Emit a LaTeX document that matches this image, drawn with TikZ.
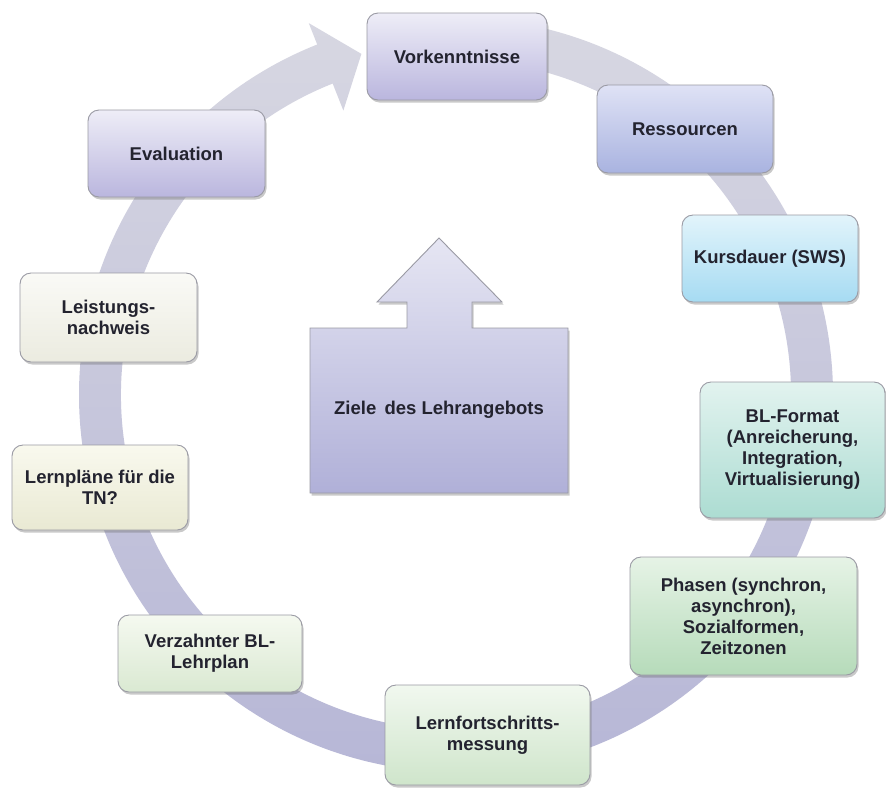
\documentclass[tikz,border=0pt]{standalone}
\usepackage{fontspec}
\setmainfont{Liberation Sans}
\usetikzlibrary{shadows,calc}
\definecolor{txt}{HTML}{23232F}
\definecolor{bordergray}{HTML}{9A9AA4}
\definecolor{bandtop}{HTML}{D8D8E2}
\definecolor{bandbot}{HTML}{B6B6D6}
\definecolor{zieletop}{HTML}{E6E6F3}
\definecolor{zielebot}{HTML}{B0B0D8}
\definecolor{vktop}{HTML}{EEEDF7}
\definecolor{vkbot}{HTML}{BAB6DE}
\definecolor{retop}{HTML}{DFE2F5}
\definecolor{rebot}{HTML}{A9B3E0}
\definecolor{kutop}{HTML}{E2F4FB}
\definecolor{kubot}{HTML}{A6DBF2}
\definecolor{bltop}{HTML}{E2F3EF}
\definecolor{blbot}{HTML}{ACDCD2}
\definecolor{phtop}{HTML}{E6F3E6}
\definecolor{phbot}{HTML}{B6DBBA}
\definecolor{lftop}{HTML}{F1F8EF}
\definecolor{lfbot}{HTML}{CFE5CB}
\definecolor{vztop}{HTML}{F5F9F0}
\definecolor{vzbot}{HTML}{DAE9D2}
\definecolor{lptop}{HTML}{F9F9EE}
\definecolor{lpbot}{HTML}{E9E9D3}
\definecolor{lntop}{HTML}{FAFAF6}
\definecolor{lnbot}{HTML}{EBEBE0}
\begin{document}
\begin{tikzpicture}[x=1pt,y=-1pt,
  box/.style={rectangle, rounded corners=11pt, draw=bordergray, line width=0.9pt,
    align=center, font=\fontsize{18.5}{21}\selectfont\bfseries, text=txt, inner sep=2pt,
    drop shadow={shadow xshift=1.5pt, shadow yshift=-2.5pt, opacity=0.35, fill=black!60}},
  shd/.style n args={2}{top color=#1, bottom color=#2},
]
\useasboundingbox (0,0) rectangle (886,796);
\fill[white] (0,0) rectangle (886,796);

% ring with arrow head
\coordinate (c) at (456,395);
\shade[top color=bandtop, bottom color=bandbot]
  ($(c)+(-95:377)$) arc[start angle=-95, end angle=248.4, radius=377]
  -- ($(c)+(248.4:400)$) -- ($(c)+(254.5:354)$) -- ($(c)+(248.4:306)$)
  -- ($(c)+(248.4:335)$) arc[start angle=248.4, end angle=-95, radius=335] -- cycle;

% central arrow shape
\draw[draw=bordergray, line width=0.9pt, top color=zieletop, bottom color=zielebot,
      drop shadow={shadow xshift=1.5pt, shadow yshift=-2.5pt, opacity=0.35, fill=black!60}]
  (310,328) -- (407,328) -- (407,302) -- (377,302) -- (439,238) -- (502,302)
  -- (472,302) -- (472,328) -- (568,328) -- (568,493) -- (310,493) -- cycle;
\node[font=\fontsize{18.5}{21}\selectfont\bfseries, text=txt] (ziele) at (439,410) {Ziele\, des Lehrangebots};

% boxes
\node[box, shd={vktop}{vkbot}, minimum width=180pt, minimum height=87pt] (vork) at (457,56.5) {Vorkenntnisse};
\node[box, shd={retop}{rebot}, minimum width=176pt, minimum height=88pt] (ress) at (685,129) {Ressourcen};
\node[box, shd={kutop}{kubot}, minimum width=176pt, minimum height=87pt] (kurs) at (770,258.5) {Kursdauer (SWS)};
\node[box, shd={bltop}{blbot}, minimum width=185pt, minimum height=136pt] (blf) at (792.5,450) {BL-Format\\(Anreicherung,\\Integration,\\Virtualisierung)};
\node[box, shd={phtop}{phbot}, minimum width=227pt, minimum height=118pt] (phas) at (743.5,616) {Phasen (synchron,\\asynchron),\\Sozialformen,\\Zeitzonen};
\node[box, shd={lftop}{lfbot}, minimum width=205pt, minimum height=100pt] (lernf) at (487.5,735) {Lernfortschritts-\\messung};
\node[box, shd={vztop}{vzbot}, minimum width=184pt, minimum height=77pt] (verz) at (210,653.5) {Verzahnter BL-\\Lehrplan};
\node[box, shd={lptop}{lpbot}, minimum width=176pt, minimum height=85pt] (lernpl) at (100,487.5) {Lernpläne für die\\TN?};
\node[box, shd={lntop}{lnbot}, minimum width=177pt, minimum height=89pt] (leist) at (108.5,317.5) {Leistungs-\\nachweis};
\node[box, shd={vktop}{vkbot}, minimum width=177pt, minimum height=87pt] (eval) at (176.5,153.5) {Evaluation};
\end{tikzpicture}
\end{document}
